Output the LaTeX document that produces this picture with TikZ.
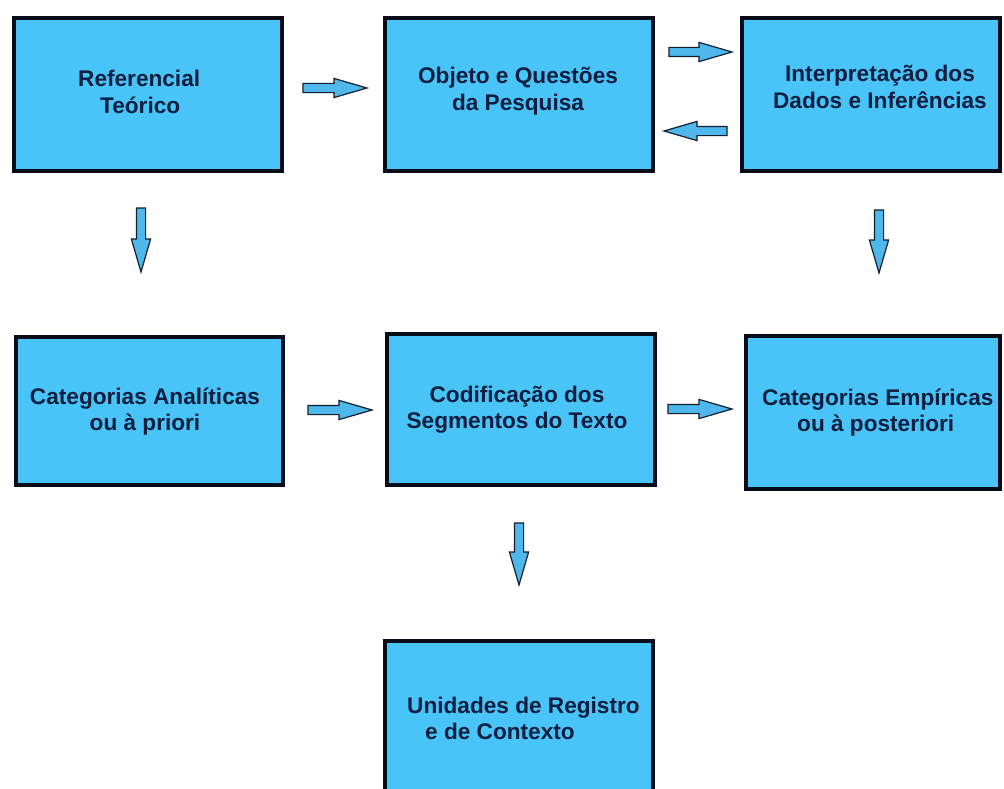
\documentclass[tikz,border=0pt]{standalone}
\usepackage{fontspec}
\setmainfont{Liberation Sans}
\usetikzlibrary{calc}

\definecolor{boxfill}{RGB}{72,196,248}
\definecolor{boxline}{RGB}{8,12,24}
\definecolor{arrowfill}{RGB}{78,184,236}
\definecolor{arrowline}{RGB}{20,30,45}
\definecolor{labeltext}{RGB}{14,30,62}

\begin{document}
\begin{tikzpicture}[x=1bp, y=-1bp,
  stage/.style={rectangle, draw=boxline, line width=4bp, fill=boxfill, inner sep=0pt},
  caption/.style={text=labeltext, inner sep=0pt,
    font=\fontsize{22.7pt}{26bp}\selectfont\bfseries},
  % block arrow drawn between two points: shaft, then triangular head
  flow/.style={draw=arrowline, fill=arrowfill, line width=1.2bp, line join=miter,
    to path={let \p1=(\tikztostart), \p2=(\tikztotarget),
      \n1={atan2(\y2-\y1,\x2-\x1)} in
      ($(\p1)+({\n1+90}:4.6bp)$)
      -- ($(\p2)+(\n1:-33bp)+({\n1+90}:4.6bp)$)
      -- ($(\p2)+(\n1:-33bp)+({\n1+90}:9.6bp)$)
      -- (\p2)
      -- ($(\p2)+(\n1:-33bp)+({\n1-90}:9.6bp)$)
      -- ($(\p2)+(\n1:-33bp)+({\n1-90}:4.6bp)$)
      -- ($(\p1)+({\n1-90}:4.6bp)$) -- cycle}}
]
\useasboundingbox (0,0) rectangle (1004,789);
\fill[white] (0,0) rectangle (1004,789);

\begin{scope}
\clip (0,0) rectangle (1004,789);

% boxes
\node[stage, minimum width=268bp, minimum height=153bp] (ref)  at (148,94.5) {};
\node[stage, minimum width=268bp, minimum height=153bp] (obj)  at (519,94.5) {};
\node[stage, minimum width=258bp, minimum height=153bp] (interp) at (871,94.5) {};
\node[stage, minimum width=267bp, minimum height=148bp] (anal) at (149.5,411) {};
\node[stage, minimum width=268bp, minimum height=151bp] (cod)  at (521,409.5) {};
\node[stage, minimum width=254bp, minimum height=153bp] (emp)  at (873,412.5) {};
\node[stage, minimum width=268bp, minimum height=187bp] (unid) at (519,734.5) {};

% box texts
\node[caption, align=left, anchor=west] (refT) at (78,94.8)
  {\strut Referencial\\\hspace*{22bp}\strut Teórico};
\node[caption, align=center] (objT) at (518,91.8)
  {\strut Objeto e Questões\\\strut da Pesquisa};
\node[caption, align=center] (interpT) at (880,89.8)
  {\strut Interpretação dos\\\strut Dados e Inferências};
\node[caption, align=center] (analT) at (145,411.8)
  {\strut Categorias Analíticas\\\strut ou à priori};
\node[caption, align=center] (codT) at (517,409.8)
  {\strut Codificação dos\\\strut Segmentos do Texto};
\node[caption, align=left, anchor=west] (empT) at (762,412.8)
  {\strut Categorias Empíricas\\\hspace*{35bp}\strut ou à posteriori};
\node[caption, align=left, anchor=west] (unidT) at (407,720.8)
  {\strut Unidades de Registro\\\hspace*{18bp}\strut e de Contexto};

% arrow end points
\coordinate (a1s) at (303,88);  \coordinate (a1e) at (367,88);
\coordinate (a2s) at (669,52);  \coordinate (a2e) at (732,52);
\coordinate (a3s) at (727,131); \coordinate (a3e) at (664,131);
\coordinate (a4s) at (141,208); \coordinate (a4e) at (141,272);
\coordinate (a5s) at (879,210); \coordinate (a5e) at (879,273);
\coordinate (a6s) at (308,410); \coordinate (a6e) at (372,410);
\coordinate (a7s) at (668,409); \coordinate (a7e) at (732,409);
\coordinate (a8s) at (519,523); \coordinate (a8e) at (519,585);

% arrows
\draw[flow] (a1s) to (a1e);
\draw[flow] (a2s) to (a2e);
\draw[flow] (a3s) to (a3e);
\draw[flow] (a4s) to (a4e);
\draw[flow] (a5s) to (a5e);
\draw[flow] (a6s) to (a6e);
\draw[flow] (a7s) to (a7e);
\draw[flow] (a8s) to (a8e);
\end{scope}
\end{tikzpicture}
\end{document}
